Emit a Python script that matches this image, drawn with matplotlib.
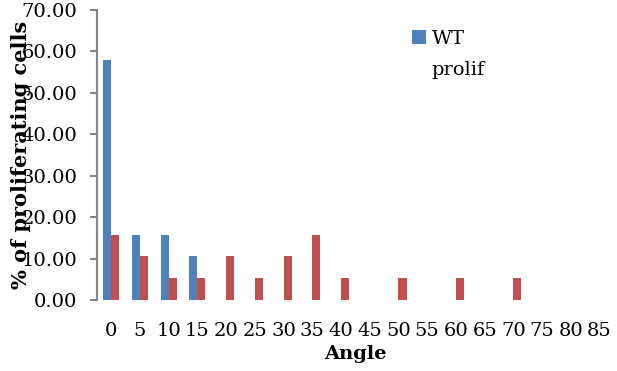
import numpy as np
import matplotlib.pyplot as plt

angles = ["0", "5", "10", "15", "20", "25", "30", "35", "40", "45",
          "50", "55", "60", "65", "70", "75", "80", "85"]
wt_prolif = [57.89, 15.79, 15.79, 10.53, 0, 0, 0, 0, 0, 0,
             0, 0, 0, 0, 0, 0, 0, 0]
other = [15.79, 10.53, 5.26, 5.26, 10.53, 5.26, 10.53, 15.79, 5.26, 0,
         5.26, 0, 5.26, 0, 5.26, 0, 0, 0]
yticks = [0, 10, 20, 30, 40, 50, 60, 70]

plt.rcParams['font.family'] = ['DejaVu Serif']

fig = plt.figure(figsize=(6.17, 3.71), dpi=100)
ax = fig.add_axes([0.157, 0.191, 0.838, 0.782])

x = np.arange(len(angles))
w = 0.28
ax.bar(x - w / 2, wt_prolif, w, color="#4F81BD", label="WT")
ax.bar(x + w / 2, other, w, color="#C0504D")

ax.set_xlim(-0.5, len(angles) - 0.5)
ax.set_ylim(0, 70)
ax.set_yticks(yticks)
ax.set_yticklabels([f"{v:.2f}" for v in yticks], fontsize=14)
ax.set_xticks(x)
ax.set_xticklabels(angles, fontsize=14)

for s in ["top", "right", "bottom"]:
    ax.spines[s].set_visible(False)
ax.spines["left"].set_color("#868686")
ax.spines["left"].set_linewidth(1.5)
ax.tick_params(axis="y", color="#868686", width=1.5, length=5, pad=9)
ax.tick_params(axis="x", length=0, pad=16)

ax.set_xlabel("Angle", fontsize=14, fontweight="bold", labelpad=3)
ax.set_ylabel("% of proliferating cells", fontsize=15, fontweight="bold")
ax.yaxis.set_label_coords(-0.128, 0.5)

ax.legend(loc="upper left", bbox_to_anchor=(412 / 617, 1 - 30 / 371),
          bbox_transform=fig.transFigure, frameon=False, borderpad=0,
          borderaxespad=0, fontsize=14, handlelength=0.7, handleheight=0.7,
          handletextpad=0.3)
fig.text(431 / 617, 1 - 75 / 371, "prolif", fontsize=14, va="baseline")

fig.savefig("out.png")
